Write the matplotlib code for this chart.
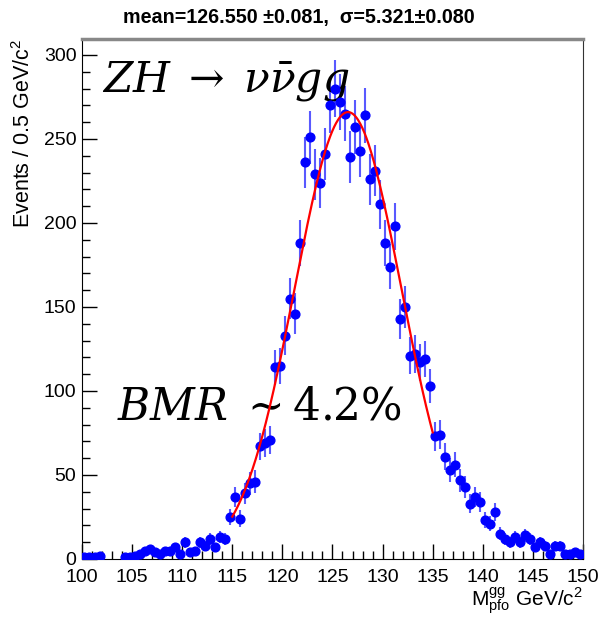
import numpy as np
import matplotlib
matplotlib.use("Agg")
import matplotlib.pyplot as plt

plt.rcParams['font.family'] = ['Liberation Sans', 'DejaVu Sans']
plt.rcParams['mathtext.fontset'] = 'custom'
plt.rcParams['mathtext.rm'] = 'Liberation Sans'
plt.rcParams['mathtext.it'] = 'Liberation Sans:italic'
plt.rcParams['mathtext.bf'] = 'Liberation Sans:bold'

# histogram: 100 bins of 0.5 GeV from 100 to 150
bin_edges_lo = 100.0
bin_width = 0.5
counts = [1, 1, 1, 2, 0, 0, 0, 0, 1, 1,
          2, 3, 5, 6, 4, 3, 5, 5, 7, 3,
          10, 4, 5, 10, 8, 12, 7, 13, 12, 25,
          37, 24, 39, 45, 46, 67, 69, 71, 114, 115,
          133, 155, 146, 188, 236, 251, 229, 224, 241, 270,
          280, 272, 265, 239, 257, 243, 264, 226, 231, 211,
          188, 174, 198, 143, 150, 121, 122, 117, 119, 103,
          73, 74, 61, 53, 56, 47, 43, 33, 37, 34,
          23, 21, 28, 15, 12, 10, 13, 10, 14, 12,
          7, 10, 8, 3, 8, 8, 3, 3, 4, 3]

# gaussian fit result
fit_mean = 126.55
fit_sigma = 5.321
fit_amp = 266.0
fit_range = (115.0, 135.0)

counts = np.array(counts, dtype=float)
centers = bin_edges_lo + bin_width * (np.arange(len(counts)) + 0.5)
errors = np.sqrt(counts)
keep = counts > 0

fig = plt.figure(figsize=(6.05, 6.2), dpi=100)
ax = fig.add_axes([0.1355, 0.0984, 0.8281, 0.8387])

ax.errorbar(centers[keep], counts[keep], yerr=errors[keep], fmt='o',
            color='blue', ecolor=(0.35, 0.35, 1.0), elinewidth=1.5,
            markersize=6.3, capsize=0, zorder=3)

xf = np.linspace(fit_range[0], fit_range[1], 300)
yf = fit_amp * np.exp(-0.5 * ((xf - fit_mean) / fit_sigma) ** 2)
ax.plot(xf, yf, color='red', lw=1.6, zorder=4)

ax.set_xlim(100, 150)
ax.set_ylim(0, 309.5)
ax.set_xticks(np.arange(100, 151, 5))
ax.set_xticks(np.arange(100, 151, 1), minor=True)
ax.set_yticks(np.arange(0, 301, 50))
ax.set_yticks(np.arange(0, 301, 10), minor=True)
ax.tick_params(which='both', direction='in', top=False, right=False,
               labelsize=14)
ax.tick_params(which='major', length=11, width=1)
ax.tick_params(which='minor', length=5.5, width=1)
ax.tick_params(axis='x', pad=7)
ax.tick_params(axis='y', pad=4)

ax.spines['top'].set_color('#888888')
ax.spines['top'].set_linewidth(2.5)
ax.spines['right'].set_color('#333333')

ax.set_ylabel('Events / 0.5 GeV/c$^{2}$', loc='top', fontsize=15.5, labelpad=6)
ax.set_xlabel(r'$\mathregular{M^{gg}_{pfo}}$ GeV/c$^{2}$', loc='right',
              fontsize=15, labelpad=0)

fig.text(123 / 605, 1 - 17 / 620, 'mean=126.550 \u00b10.081,  \u03c3=5.321\u00b10.080',
         fontsize=14.2, fontweight='bold', va='center', ha='left')

ax.text(0.04, 0.92, r'$ZH\;\rightarrow\;\nu\bar{\nu}gg$', transform=ax.transAxes,
        fontsize=30.5, math_fontfamily='dejavuserif', va='center', ha='left')
ax.text(0.07, 0.29, r'$BMR\;\sim 4.2\%$', transform=ax.transAxes,
        fontsize=31.5, math_fontfamily='dejavuserif', va='center', ha='left')

fig.savefig('out.png', dpi=100)
